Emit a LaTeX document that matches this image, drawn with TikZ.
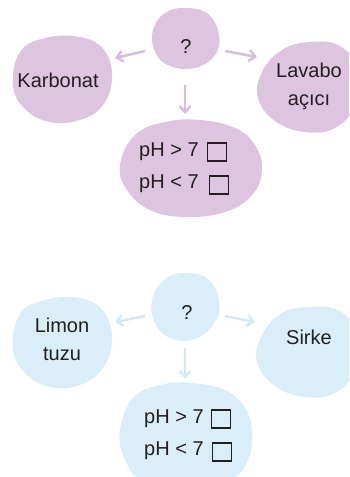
\documentclass[tikz,border=0pt]{standalone}
\usepackage{fontspec}
\setmainfont{Liberation Sans}
\usetikzlibrary{arrows.meta}
\definecolor{lilac}{HTML}{DDC4DF}
\definecolor{lilacarrow}{HTML}{D9BDDC}
\definecolor{skyfill}{HTML}{DAEEF9}
\definecolor{skyarrow}{HTML}{D2EAF7}
\definecolor{ink}{HTML}{231F20}
\tikzset{
  label text/.style={text=ink, font=\fontsize{20}{24}\selectfont, inner sep=0pt, align=center},
  tick box/.style={draw=ink, line width=1.4pt, minimum width=19pt, minimum height=18pt, inner sep=0pt},
  link/.style={line width=2.6pt, -{Straight Barb[length=6pt,width=11pt,line width=2.6pt]}},
}
\begin{document}
\begin{tikzpicture}[x=1pt,y=-1pt]
\useasboundingbox (0,0) rectangle (349,477);
\clip (0,0) rectangle (349,477);

% ---------- upper group ----------
\fill[lilac] plot[smooth cycle, tension=0.7] coordinates
  {(185,8) (208,14) (219,35) (215,55) (195,68) (170,66) (155,52) (153,30) (165,13)};
\fill[lilac] plot[smooth cycle, tension=0.7] coordinates
  {(20,52) (45,38) (80,37) (104,50) (112,77) (103,105) (80,120) (50,122) (25,109) (13,85)};
\fill[lilac] plot[smooth cycle, tension=0.7] coordinates
  {(262,72) (282,50) (310,42) (340,46) (358,70) (355,105) (335,128) (305,132) (275,121) (258,98)};
\fill[lilac] plot[smooth cycle, tension=0.7] coordinates
  {(135,135) (165,122) (200,120) (235,128) (255,145) (262,170) (252,195) (225,212) (185,217) (150,210) (127,190) (120,165)};

\node[label text] (q1) at (186,47) {?};
\node[label text] (karbonat) at (58,80) {Karbonat};
\node[label text] (lavabo) at (309,86) {Lavabo\\[4pt]açıcı};
\node[label text, anchor=west] (ph1a) at (139,152) {pH > 7};
\node[tick box] (box1a) at (217,152) {};
\node[label text, anchor=west] (ph1b) at (139,184) {pH < 7};
\node[tick box] (box1b) at (219,185) {};

\coordinate (q1l) at (145,51);
\coordinate (q1r) at (225,51);
\coordinate (q1d) at (185,85);
\coordinate (karbonatin) at (115,58);
\coordinate (lavaboin) at (257,57);
\coordinate (ph1in) at (185,114);
\draw[link, lilacarrow] (q1l) -- (karbonatin);
\draw[link, lilacarrow] (q1r) -- (lavaboin);
\draw[link, lilacarrow] (q1d) -- (ph1in);

% ---------- lower group ----------
\fill[skyfill] plot[smooth cycle, tension=0.7] coordinates
  {(185,273) (208,279) (219,301) (215,322) (195,339) (170,338) (155,323) (152,300) (165,279)};
\fill[skyfill] plot[smooth cycle, tension=0.7] coordinates
  {(20,314) (45,300) (80,298) (104,312) (112,340) (103,368) (80,385) (50,387) (25,373) (13,348)};
\fill[skyfill] plot[smooth cycle, tension=0.7] coordinates
  {(262,335) (282,313) (310,307) (340,311) (358,335) (355,370) (335,393) (305,397) (275,386) (257,362)};
\fill[skyfill] plot[smooth cycle, tension=0.7] coordinates
  {(133,398) (160,385) (190,383) (225,390) (245,408) (252,432) (248,460) (230,480) (185,490) (145,483) (125,460) (120,430)};

\node[label text] (q2) at (187,313) {?};
\node[label text] (limon) at (62,339) {Limon\\[4pt]tuzu};
\node[label text] (sirke) at (309,337) {Sirke};
\node[label text, anchor=west] (ph2a) at (144,419) {pH > 7};
\node[tick box] (box2a) at (221,419) {};
\node[label text, anchor=west] (ph2b) at (144,451) {pH < 7};
\node[tick box] (box2b) at (222,452) {};

\coordinate (q2l) at (145,316);
\coordinate (q2r) at (225,316);
\coordinate (q2d) at (185,348);
\coordinate (limonin) at (115,322);
\coordinate (sirkein) at (255,322);
\coordinate (ph2in) at (185,379);
\draw[link, skyarrow] (q2l) -- (limonin);
\draw[link, skyarrow] (q2r) -- (sirkein);
\draw[link, skyarrow] (q2d) -- (ph2in);
\end{tikzpicture}
\end{document}
